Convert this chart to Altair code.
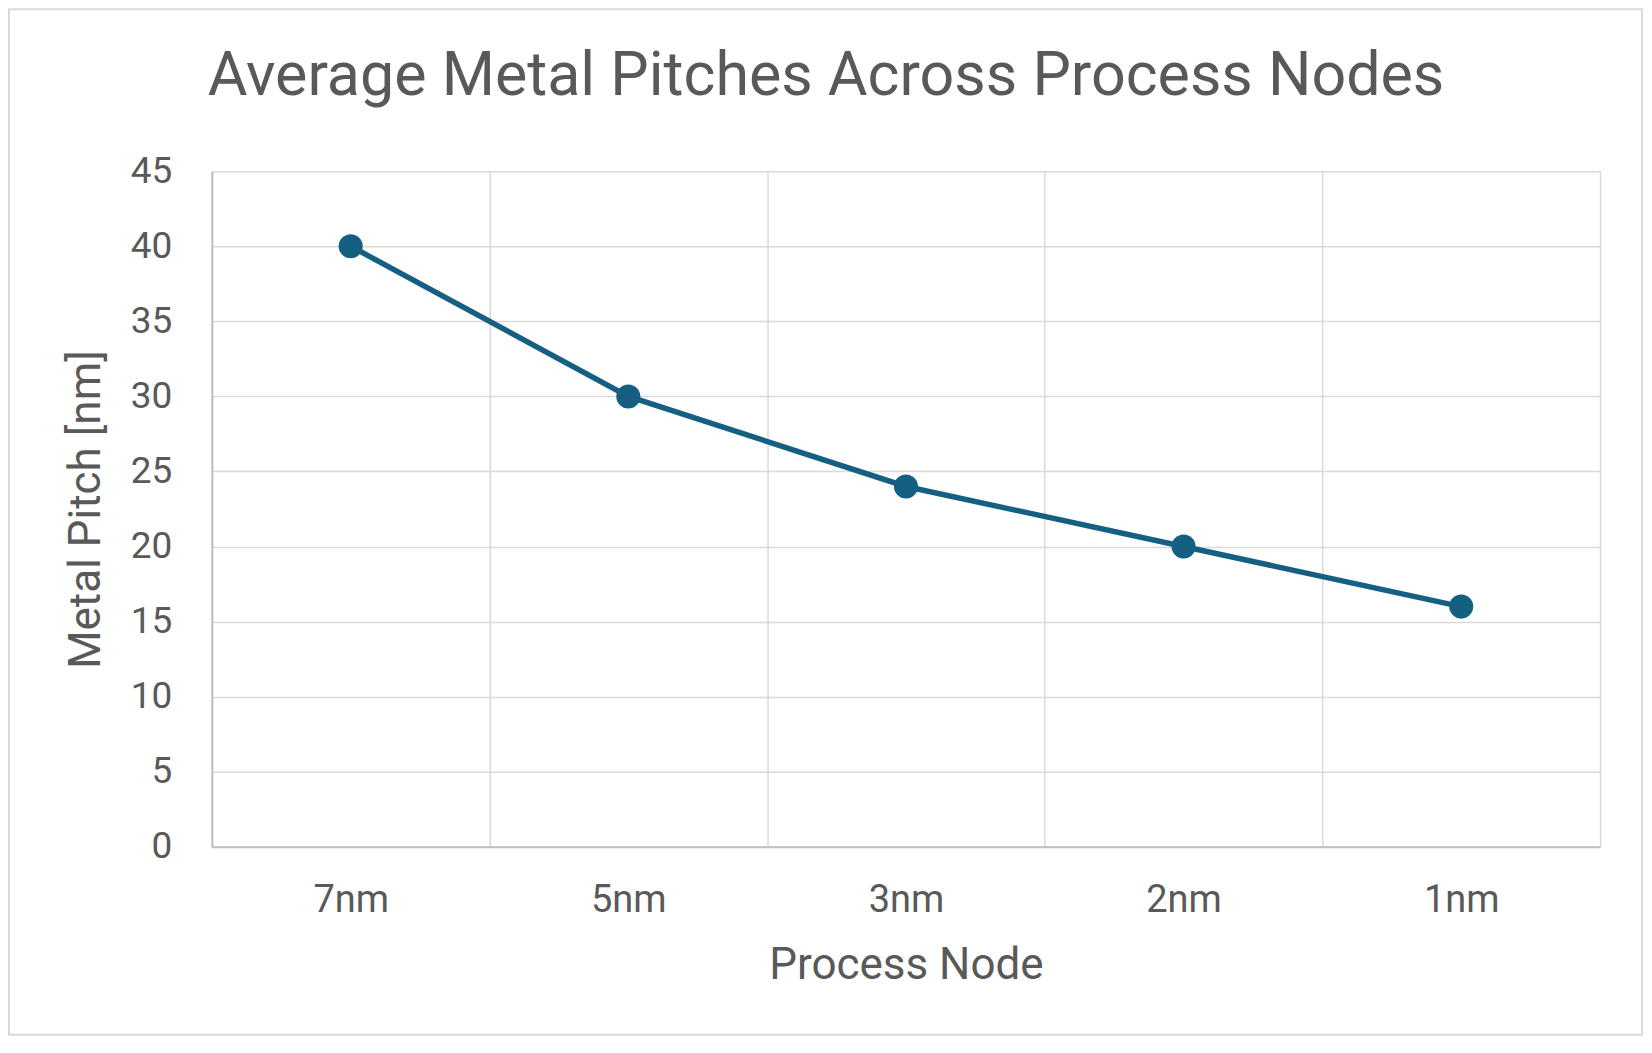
import altair as alt
import pandas as pd

nodes = ["7nm", "5nm", "3nm", "2nm", "1nm"]
pitch = [40, 30, 24, 20, 16]
y_ticks = [0, 5, 10, 15, 20, 25, 30, 35, 40, 45]

df = pd.DataFrame({"node": nodes, "pitch": pitch})

W, H = 1389, 676
FONT = "Roboto"
TXT = "#595959"
BLUE = "#156082"

x = alt.X(
    "node:N",
    sort=nodes,
    scale=alt.Scale(type="band", paddingInner=0, paddingOuter=0),
    axis=alt.Axis(
        title="Process Node",
        grid=True,
        tickBand="extent",
        gridColor="#d9d9d9",
        gridWidth=1.5,
        ticks=False,
        tickSize=0,
        domainColor="#bfbfbf",
        domainWidth=2,
        labelAngle=0,
        labelFont=FONT,
        labelFontSize=38,
        labelColor=TXT,
        labelBaseline="middle",
        labelPadding=54,
        titleFont=FONT,
        titleFontSize=44,
        titleFontWeight="normal",
        titleColor=TXT,
        titleY=119,
        titleBaseline="middle",
    ),
)

y = alt.Y(
    "pitch:Q",
    scale=alt.Scale(domain=[0, 45], nice=False),
    axis=alt.Axis(
        title="Metal Pitch [nm]",
        values=y_ticks,
        grid=True,
        gridColor="#d9d9d9",
        gridWidth=1.5,
        ticks=False,
        tickSize=0,
        domainColor="#bfbfbf",
        domainWidth=2,
        labelFont=FONT,
        labelFontSize=37,
        labelColor=TXT,
        labelPadding=40,
        titleFont=FONT,
        titleFontSize=44,
        titleFontWeight="normal",
        titleColor=TXT,
        titleX=-125,
        titleY=H / 2,
        titleAlign="center",
        titleBaseline="middle",
    ),
)

line = alt.Chart(df).mark_line(color=BLUE, strokeWidth=5.5).encode(x=x, y=y)
pts = alt.Chart(df).mark_circle(color=BLUE, size=580, opacity=1).encode(x=x, y=y)

frame_df = pd.DataFrame({"f": [0]})
frame = alt.Chart(frame_df).mark_rect(
    fill=None, stroke="#d9d9d9", strokeWidth=2
).encode(
    x=alt.value(-203), x2=alt.value(W + 42),
    y=alt.value(-162), y2=alt.value(H + 188),
)

chart = alt.layer(frame, line, pts).properties(
    width=W,
    height=H,
    padding={"left": 204, "top": 163, "right": 44, "bottom": 190},
    autosize=alt.AutoSizeParams(type="none"),
    title=alt.TitleParams(
        text="Average Metal Pitches Across Process Nodes",
        font=FONT,
        fontSize=61,
        fontWeight="normal",
        color=TXT,
        anchor="middle",
        frame="group",
        dx=-80,
        offset=-100,
    ),
).configure_view(stroke=None).configure(background="white")

chart.save("out.html", embed_options={"renderer": "svg", "actions": False})
